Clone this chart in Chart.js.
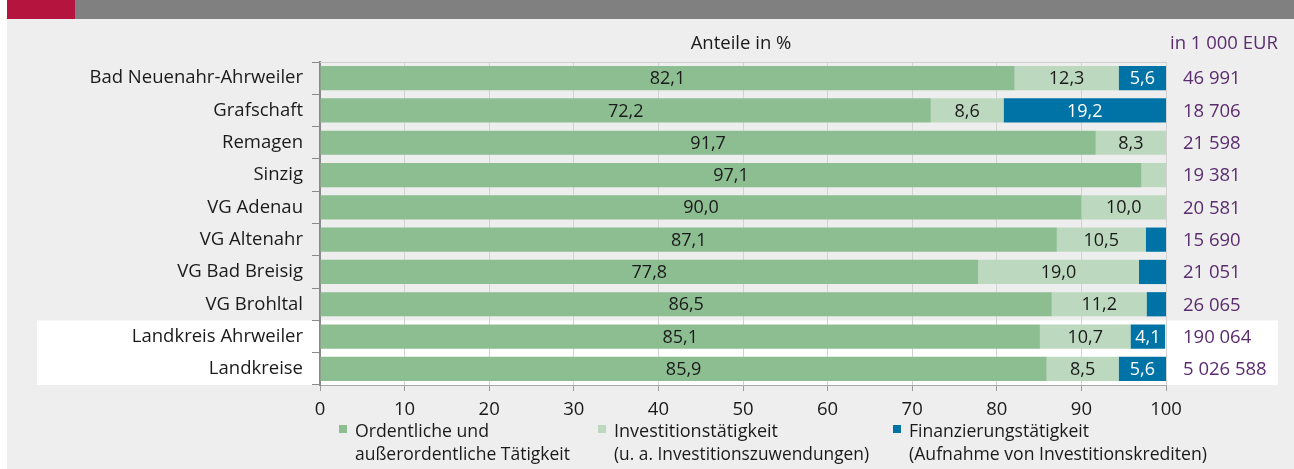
<!DOCTYPE html>
<html>
<head>
<meta charset="utf-8">
<script src="https://cdn.jsdelivr.net/npm/chart.js@4.4.1/dist/chart.umd.min.js"></script>
<style>
  html, body { margin: 0; padding: 0; overflow: hidden; background: #ffffff; }
  canvas { display: block; }
</style>
</head>
<body>
<canvas id="c" width="1294" height="469"></canvas>
<script>
const categories = ['Bad Neuenahr-Ahrweiler', 'Grafschaft', 'Remagen', 'Sinzig', 'VG Adenau', 'VG Altenahr', 'VG Bad Breisig', 'VG Brohltal', 'Landkreis Ahrweiler', 'Landkreise'];
const ordentlich   = [82.1, 72.2, 91.7, 97.1, 90.0, 87.1, 77.8, 86.5, 85.1, 85.9];
const investition  = [12.3, 8.6, 8.3, 2.9, 10.0, 10.5, 19.0, 11.2, 10.7, 8.5];
const finanzierung = [5.6, 19.2, 0, 0, 0, 2.4, 3.2, 2.3, 4.1, 5.6];
const totals = ['46 991', '18 706', '21 598', '19 381', '20 581', '15 690', '21 051', '26 065', '190 064', '5 026 588'];
const seriesNames = [
  ['Ordentliche und', 'außerordentliche Tätigkeit'],
  ['Investitionstätigkeit', '(u. a. Investitionszuwendungen)'],
  ['Finanzierungstätigkeit', '(Aufnahme von Investitionskrediten)']
];
const axisTitle = 'Anteile in %';
const unitTitle = 'in 1 000 EUR';

const FONT = "'Open Sans', 'Noto Sans', sans-serif";
const C_GREEN = '#8dbe92';
const C_LIGHT = '#bcd8bf';
const C_BLUE = '#0073a6';
const C_PURPLE = '#5b2c6f';
const C_TEXT = '#1a1a1a';
const C_BG = '#edeeed';

const fmt = v => v.toFixed(1).replace('.', ',');

const decor = {
  id: 'decor',
  beforeDraw(chart) {
    const ctx = chart.ctx;
    const W = chart.width, H = chart.height;
    const ca = chart.chartArea;
    ctx.save();
    ctx.fillStyle = '#ffffff';
    ctx.fillRect(0, 0, W, H);
    ctx.fillStyle = C_BG;
    ctx.fillRect(7, 19, W - 7, H - 19);
    ctx.fillStyle = '#808080';
    ctx.fillRect(75, 0, W - 75, 19);
    ctx.fillStyle = '#b5143f';
    ctx.fillRect(7, 0, 68, 19);
    // white highlight box behind the two summary rows
    const ys = chart.scales.y;
    const step = (ca.bottom - ca.top) / categories.length;
    const yTop = ys.getPixelForValue(8) - step / 2;
    ctx.fillStyle = '#ffffff';
    ctx.fillRect(37, yTop, 1278 - 37, ca.bottom - yTop);
    ctx.restore();
  },
  afterDatasetsDraw(chart) {
    const ctx = chart.ctx;
    const ca = chart.chartArea;
    ctx.save();
    ctx.font = '18px ' + FONT;
    ctx.textAlign = 'center';
    ctx.textBaseline = 'middle';
    chart.data.datasets.forEach((ds, i) => {
      const meta = chart.getDatasetMeta(i);
      meta.data.forEach((bar, j) => {
        const v = ds.data[j];
        if (v < 4) return;
        const p = bar.getProps(['x', 'base', 'y'], true);
        ctx.fillStyle = ds.labelColor;
        ctx.fillText(fmt(v), (p.x + p.base) / 2, p.y + 1);
      });
    });
    // top frame line
    ctx.strokeStyle = '#cfcfcf';
    ctx.lineWidth = 1;
    ctx.beginPath();
    ctx.moveTo(ca.left, ca.top + 0.5);
    ctx.lineTo(ca.right, ca.top + 0.5);
    ctx.stroke();
    // header texts
    ctx.fillStyle = C_TEXT;
    ctx.font = '18.5px ' + FONT;
    ctx.fillText(axisTitle, 741, 44);
    ctx.fillStyle = C_PURPLE;
    ctx.font = '18.5px ' + FONT;
    ctx.textAlign = 'left';
    ctx.fillText(unitTitle, 1170, 44, 110);
    // totals on the right
    const ys = chart.scales.y;
    totals.forEach((t, j) => {
      ctx.fillText(t, 1183, ys.getPixelForValue(j) + 1);
    });
    // legend
    const legendX = [339, 598, 893];
    chart.data.datasets.forEach((ds, i) => {
      ctx.fillStyle = ds.backgroundColor;
      ctx.fillRect(legendX[i], 425, 8, 8);
      ctx.fillStyle = C_TEXT;
      ctx.font = '18.5px ' + FONT;
      const lines = seriesNames[i];
      const widths = [[134, 215], [164, 255], [180, 298]][i];
      ctx.fillText(lines[0], legendX[i] + 16, 432, widths[0]);
      ctx.fillText(lines[1], legendX[i] + 16, 455, widths[1]);
    });
    ctx.restore();
  }
};

new Chart(document.getElementById('c'), {
  type: 'bar',
  data: {
    labels: categories,
    datasets: [
      { label: seriesNames[0].join(' '), data: ordentlich, backgroundColor: C_GREEN, labelColor: C_TEXT },
      { label: seriesNames[1].join(' '), data: investition, backgroundColor: C_LIGHT, labelColor: C_TEXT },
      { label: seriesNames[2].join(' '), data: finanzierung, backgroundColor: C_BLUE, labelColor: '#ffffff' }
    ]
  },
  options: {
    indexAxis: 'y',
    responsive: false,
    animation: false,
    devicePixelRatio: 1,
    layout: { padding: { top: 62, right: 128, left: 0, bottom: 0 } },
    datasets: { bar: { categoryPercentage: 1, barPercentage: 0.75, borderWidth: 0 } },
    plugins: { legend: { display: false }, tooltip: { enabled: false } },
    scales: {
      x: {
        stacked: true,
        min: 0, max: 100,
        ticks: { stepSize: 10, color: C_TEXT, font: { family: FONT, size: 18.5 }, padding: 8 },
        grid: { color: '#d2d2d2', lineWidth: 1, drawTicks: true, tickLength: 6, tickColor: '#9a9a9a' },
        border: { display: true, color: '#a8a8a8', width: 1 },
        afterFit(scale) { scale.height = 84; }
      },
      y: {
        stacked: true,
        ticks: { color: C_TEXT, font: { family: FONT, size: 18.5 }, padding: 9 },
        grid: { drawOnChartArea: false, drawTicks: true, tickLength: 8, tickColor: '#8a8a8a', offset: true },
        border: { display: true, color: '#8a8a8a', width: 2 },
        afterFit(scale) { scale.width = 320; }
      }
    }
  },
  plugins: [decor]
});
</script>
</body>
</html>
